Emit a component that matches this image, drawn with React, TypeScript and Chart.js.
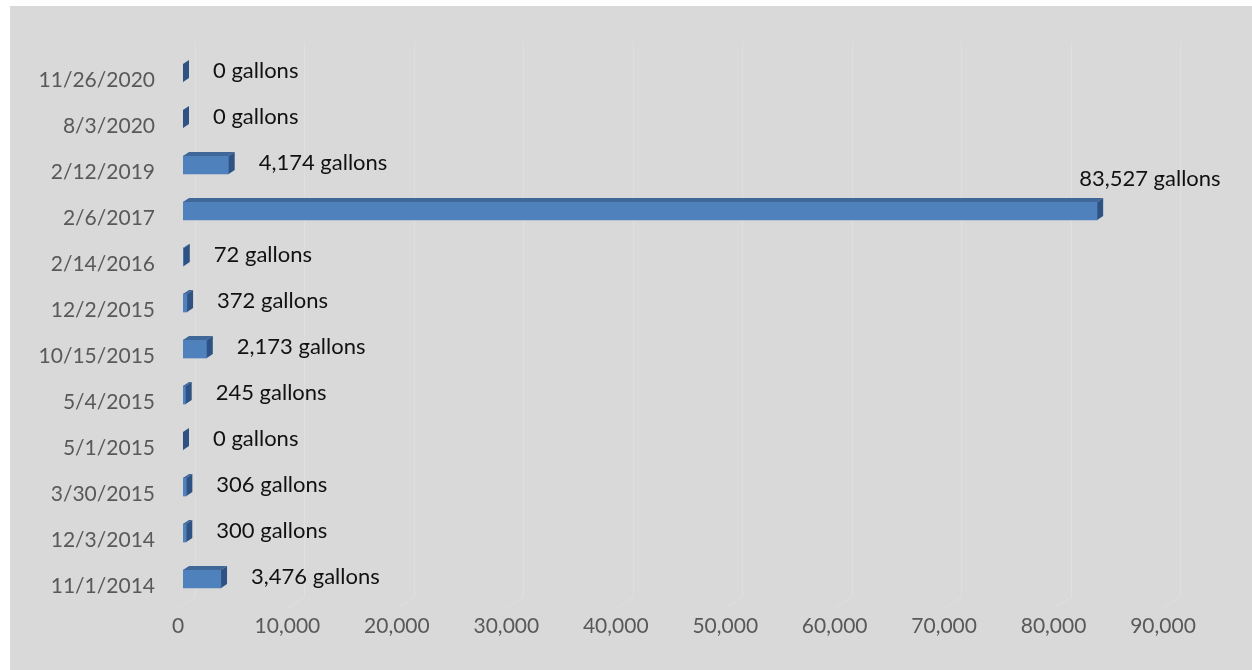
import React, { useEffect, useRef } from "react";
import { Chart, registerables } from "chart.js";

Chart.register(...registerables);

const dates = [
  "11/26/2020",
  "8/3/2020",
  "2/12/2019",
  "2/6/2017",
  "2/14/2016",
  "12/2/2015",
  "10/15/2015",
  "5/4/2015",
  "5/1/2015",
  "3/30/2015",
  "12/3/2014",
  "11/1/2014",
];
const gallons = [0, 0, 4174, 83527, 72, 372, 2173, 245, 0, 306, 300, 3476];
const axisMin = 0;
const axisMax = 90000;
const axisStep = 10000;
const unitLabel = "gallons";

const FONT = "Lato, 'Open Sans', sans-serif";
const FRONT = "#4f81bd";
const TOP = "#3f6898";
const SIDE = "#2d5283";
const DX = 6;
const DY = -4;

const fmt = (v: number) => v.toLocaleString("en-US");

const threeD = {
  id: "threeD",
  beforeDatasetsDraw(chart: any) {
    const { ctx, chartArea } = chart;
    const xs = chart.scales.x;
    ctx.save();
    ctx.strokeStyle = "#dfdfdf";
    ctx.lineWidth = 1;
    for (let v = axisMin; v <= axisMax; v += axisStep) {
      const px = Math.round(xs.getPixelForValue(v)) + 0.5;
      ctx.beginPath();
      ctx.moveTo(px + 12, chartArea.top - 8);
      ctx.lineTo(px + 12, chartArea.bottom - 5);
      ctx.lineTo(px - 5, chartArea.bottom + 6);
      ctx.stroke();
    }
    ctx.restore();
  },
  afterDatasetsDraw(chart: any) {
    const { ctx, chartArea } = chart;
    const meta = chart.getDatasetMeta(0);
    ctx.save();
    meta.data.forEach((el: any, i: number) => {
      const x0 = el.base;
      const x1 = el.x;
      const h = el.height;
      const top = el.y - h / 2;
      const bot = el.y + h / 2;
      if (x1 - x0 > 0.5) {
        ctx.fillStyle = TOP;
        ctx.beginPath();
        ctx.moveTo(x0, top);
        ctx.lineTo(x0 + DX, top + DY);
        ctx.lineTo(x1 + DX, top + DY);
        ctx.lineTo(x1, top);
        ctx.closePath();
        ctx.fill();
      }
      ctx.fillStyle = SIDE;
      ctx.beginPath();
      ctx.moveTo(x1, top);
      ctx.lineTo(x1 + DX, top + DY);
      ctx.lineTo(x1 + DX, bot + DY);
      ctx.lineTo(x1, bot);
      ctx.closePath();
      ctx.fill();

      const text = `${fmt(gallons[i])} ${unitLabel}`;
      ctx.font = `22px ${FONT}`;
      ctx.fillStyle = "#111111";
      ctx.textBaseline = "middle";
      ctx.textAlign = "left";
      const w = ctx.measureText(text).width;
      let lx = x1 + 30;
      let ly = el.y - 2;
      if (lx + w > chartArea.right + 20) {
        lx = x1 - 18;
        ly = el.y - 32;
      }
      ctx.fillText(text, lx, ly);
    });
    ctx.restore();
  },
};

export default function App() {
  const ref = useRef<HTMLCanvasElement | null>(null);

  useEffect(() => {
    document.body.style.margin = "0";
    const canvas = ref.current;
    if (!canvas) return;
    const chart = new Chart(canvas, {
      type: "bar",
      data: {
        labels: dates,
        datasets: [
          {
            data: gallons,
            backgroundColor: FRONT,
            borderWidth: 0,
            barThickness: 18,
          },
        ],
      },
      options: {
        indexAxis: "y",
        animation: false,
        responsive: true,
        maintainAspectRatio: false,
        layout: { padding: { top: 44, right: 84, left: 0, bottom: 0 } },
        plugins: {
          legend: { display: false },
          tooltip: { enabled: false },
        },
        scales: {
          x: {
            min: axisMin,
            max: axisMax,
            grid: { display: false, drawTicks: false },
            border: { display: false },
            ticks: {
              stepSize: axisStep,
              padding: 12,
              labelOffset: -5,
              color: "#595959",
              font: { family: FONT, size: 21 },
              callback: (v: any) => fmt(Number(v)),
              maxRotation: 0,
              autoSkip: false,
            },
            afterFit: (s: any) => {
              s.height = 68;
            },
          },
          y: {
            grid: { display: false, drawTicks: false },
            border: { display: false },
            ticks: {
              padding: 28,
              labelOffset: 7,
              color: "#595959",
              font: { family: FONT, size: 21 },
              autoSkip: false,
            },
            afterFit: (s: any) => {
              s.width = 173;
            },
          },
        },
      },
      plugins: [threeD],
    });
    return () => chart.destroy();
  }, []);

  return (
    <div style={{ position: "relative", width: 1252, height: 670, background: "#ffffff" }}>
      <div
        style={{
          position: "absolute",
          left: 10,
          top: 6,
          width: 1242,
          height: 664,
          background: "#d9d9d9",
        }}
      >
        <canvas ref={ref} />
      </div>
    </div>
  );
}
